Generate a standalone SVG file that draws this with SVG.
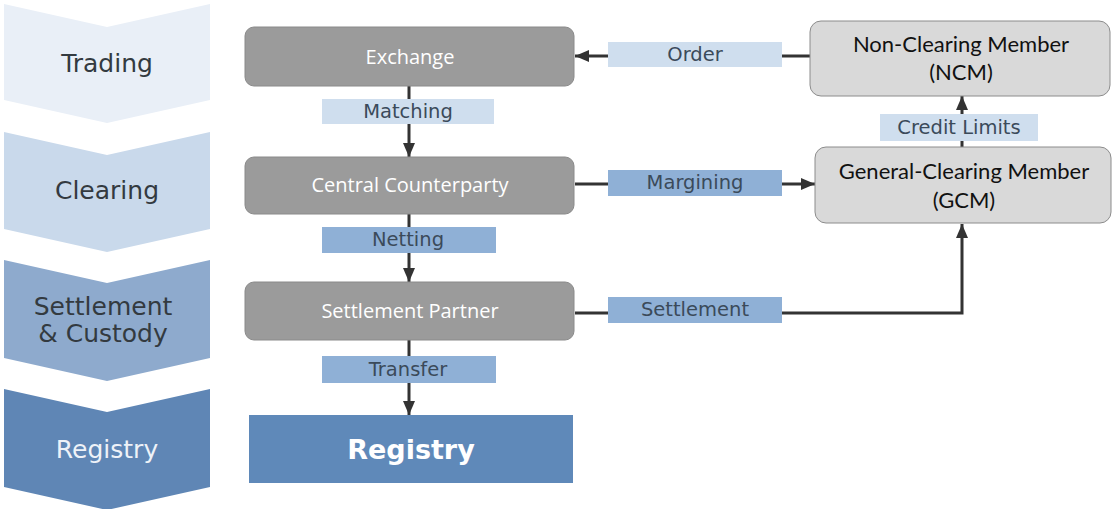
<svg xmlns="http://www.w3.org/2000/svg" width="1113" height="509" viewBox="0 0 1113 509">
<style>
.stage{font-family:"DejaVu Sans",Verdana,sans-serif;font-size:25px;text-anchor:middle}
.dark{fill:#333a40}
.proc rect{fill:#9b9b9b;stroke:#8a8a8a;stroke-width:1}
.proc text{font-family:"Open Sans","Noto Sans",sans-serif;font-size:20px;fill:#ffffff;text-anchor:middle}
.mem rect{fill:#d9d9d9;stroke:#8c8c8c;stroke-width:1}
.mem text{font-family:Lato,"Liberation Sans",sans-serif;font-size:22px;fill:#111;text-anchor:middle}
.lbl{font-family:"DejaVu Sans",Verdana,sans-serif;font-size:19.5px;fill:#3b4a5a;text-anchor:middle}
.light{fill:#cfdeee}
.mid{fill:#8fb0d6}
.conn{stroke:#333;stroke-width:3;fill:none}
</style>
<defs>
<marker id="ah" viewBox="0 0 14 12" refX="14" refY="6" markerWidth="14" markerHeight="12" markerUnits="userSpaceOnUse" orient="auto">
<path d="M0,0 L14,6 L0,12 Z" fill="#333"/>
</marker>
</defs>
<rect width="1113" height="509" fill="#ffffff"/>
<g id="stage-trading">
<polygon points="4,4 107,27 210,4 210,100 107,123 4,100" fill="#e9eff7"/>
<text class="stage dark" x="107" y="72">Trading</text>
</g>
<g id="stage-clearing">
<polygon points="4,132 107,155 210,132 210,229 107,252 4,229" fill="#c9d9eb"/>
<text class="stage dark" x="107" y="199">Clearing</text>
</g>
<g id="stage-settlement">
<polygon points="4,260 107,283 210,260 210,358 107,381 4,358" fill="#8eaacd"/>
<text class="stage dark" x="103" y="315" font-size="24">Settlement</text>
<text class="stage dark" x="103" y="342" font-size="24">&amp; Custody</text>
</g>
<g id="stage-registry">
<polygon points="4,389 107,412 210,389 210,487 107,510 4,487" fill="#5f86b5"/>
<text class="stage" x="107" y="458" font-size="26" fill="#eef2f8">Registry</text>
</g>
<g id="connectors">
<line class="conn" x1="409" y1="86" x2="409" y2="157" marker-end="url(#ah)"/>
<line class="conn" x1="409" y1="214" x2="409" y2="282" marker-end="url(#ah)"/>
<line class="conn" x1="409" y1="340" x2="409" y2="415" marker-end="url(#ah)"/>
<line class="conn" x1="810" y1="56" x2="575" y2="56" marker-end="url(#ah)"/>
<line class="conn" x1="575" y1="184" x2="815" y2="184" marker-end="url(#ah)"/>
<line class="conn" x1="962" y1="147" x2="962" y2="96" marker-end="url(#ah)"/>
<polyline class="conn" points="575,313 962,313 962,224" marker-end="url(#ah)"/>
<rect class="light" x="322" y="99" width="172" height="25"/>
<text class="lbl" x="408" y="118">Matching</text>
<rect class="mid" x="322" y="227" width="174" height="26"/>
<text class="lbl" x="408" y="246">Netting</text>
<rect class="mid" x="322" y="356" width="174" height="27"/>
<text class="lbl" x="408" y="376">Transfer</text>
<rect class="light" x="608" y="42" width="174" height="25"/>
<text class="lbl" x="695" y="61">Order</text>
<rect class="mid" x="608" y="170" width="174" height="26"/>
<text class="lbl" x="695" y="189">Margining</text>
<rect class="mid" x="608" y="297" width="174" height="26"/>
<text class="lbl" x="695" y="316">Settlement</text>
<rect class="light" x="880" y="114" width="158" height="27"/>
<text class="lbl" x="959" y="134">Credit Limits</text>
</g>
<g id="exchange" class="proc">
<rect x="245" y="27" width="329" height="59" rx="9"/>
<text x="410" y="64">Exchange</text>
</g>
<g id="ccp" class="proc">
<rect x="245" y="157" width="329" height="57" rx="9"/>
<text x="410" y="192">Central Counterparty</text>
</g>
<g id="settlement-partner" class="proc">
<rect x="245" y="282" width="329" height="58" rx="9"/>
<text x="410" y="318">Settlement Partner</text>
</g>
<g id="registry">
<rect x="249" y="415" width="324" height="68" fill="#5f89b9"/>
<text x="411" y="459" font-family="'DejaVu Sans',Verdana,sans-serif" font-size="27" font-weight="bold" fill="#ffffff" text-anchor="middle">Registry</text>
</g>
<g id="ncm" class="mem">
<rect x="810" y="21" width="300" height="75" rx="11"/>
<text x="961" y="52">Non-Clearing Member</text>
<text x="961" y="80">(NCM)</text>
</g>
<g id="gcm" class="mem">
<rect x="815" y="147" width="296" height="76" rx="11"/>
<text x="964" y="179">General-Clearing Member</text>
<text x="964" y="208">(GCM)</text>
</g>
</svg>
